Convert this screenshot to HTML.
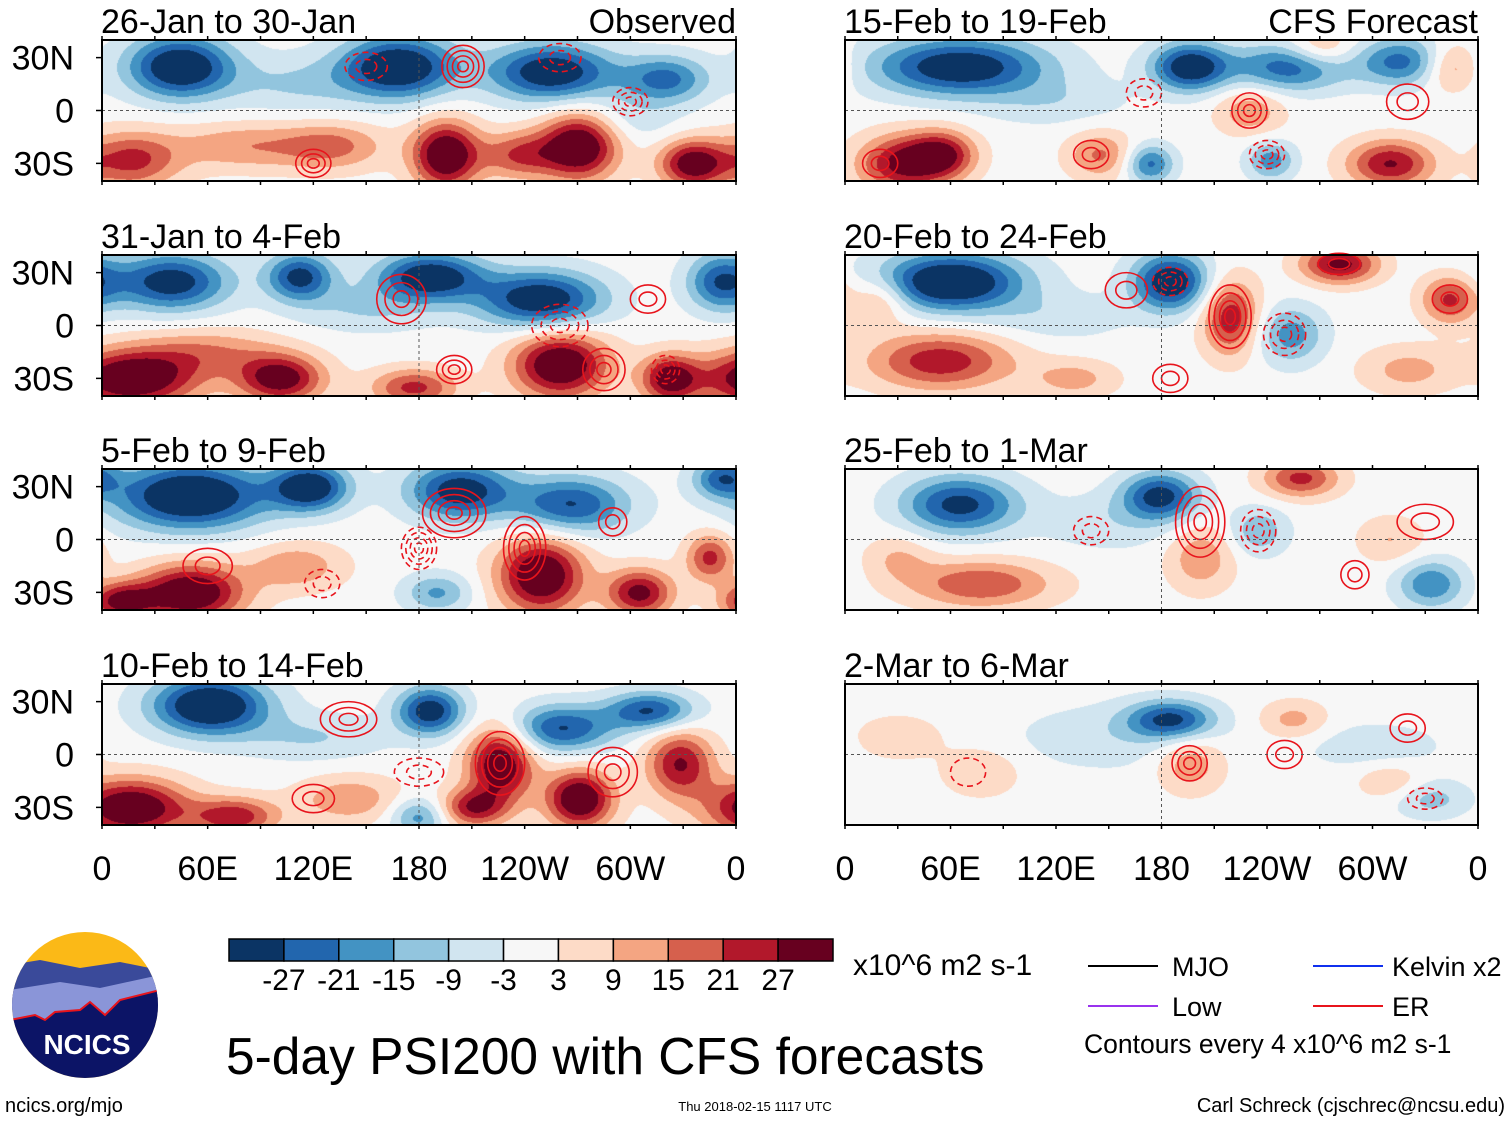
<!DOCTYPE html>
<html><head><meta charset="utf-8">
<style>
body{margin:0;background:#fff;width:1510px;height:1121px;position:relative;overflow:hidden;font-family:"Liberation Sans",sans-serif}
canvas{position:absolute}
#ov{position:absolute;left:0;top:0}
</style></head><body>
<div id="maps"></div>
<svg id="ov" width="1510" height="1121" font-family="Liberation Sans, sans-serif"></svg>
<script>
// ----- data -----
const panelTitles=["26-Jan to 30-Jan","31-Jan to 4-Feb","5-Feb to 9-Feb","10-Feb to 14-Feb","15-Feb to 19-Feb","20-Feb to 24-Feb","25-Feb to 1-Mar","2-Mar to 6-Mar"];
const lonTicks=["0","60E","120E","180","120W","60W","0"];
const latTicks=["30N","0","30S"];
const latTickValues=[30,0,-30];
const cbLabels=["-27","-21","-15","-9","-3","3","9","15","21","27"];
const cbColors=["#0b3464","#2266ae","#4393c3","#92c5de","#d1e5f0","#f7f7f7","#fddbc7","#f4a582","#d6604d","#b2182b","#67001f"];
const levels=[-27,-21,-15,-9,-3,3,9,15,21,27];
// streamfunction anomaly centres per panel: [lon, lat, amplitude, lonRadius, latRadius]
const psiP1=[[44,25,-32,22,13],[168,25,-32,24,13],[255,22,-30,26,12],[320,18,-20,18,10],[195,-25,32,14,14],[271,-20,32,16,14],[16,-28,20,20,12],[131,-20,14,22,10],[335,-30,28,14,10],[237,-25,18,16,10],[80,-20,12,30,10],[110,15,-8,30,12],[300,-5,-6,20,10]];
const psiP2=[[39,25,-28,24,12],[112,28,-26,14,10],[186,28,-30,22,10],[249,15,-30,26,12],[351,25,-22,14,12],[16,-30,32,28,12],[101,-30,28,18,10],[177,-35,20,18,8],[260,-22,32,20,14],[322,-30,26,12,10],[60,-15,12,30,10],[150,10,-8,30,10]];
const psiP3=[[50,25,-34,32,14],[118,30,-30,16,10],[203,28,-28,22,12],[266,20,-24,24,12],[352,35,-20,12,8],[50,-30,32,22,12],[10,-35,24,14,8],[249,-20,32,18,16],[305,-30,26,14,10],[345,-10,20,10,10],[110,-15,12,20,10],[190,-30,-14,14,8]];
const psiP4=[[61,28,-34,24,12],[186,25,-28,14,10],[260,15,-24,22,10],[311,25,-24,18,8],[180,-35,-16,12,8],[226,-5,30,14,16],[271,-25,32,14,12],[328,-5,24,14,14],[16,-30,32,24,12],[75,-35,22,18,8],[210,-30,22,14,8],[140,-25,12,22,10],[120,10,-8,30,10]];
const psiP5=[[65,25,-30,36,12],[196,25,-30,16,10],[253,25,-22,24,10],[316,28,-20,18,10],[173,-30,-20,10,8],[242,-28,-16,10,8],[31,-30,24,18,12],[55,-25,24,14,10],[310,-30,24,18,10],[145,-25,14,14,10],[230,0,12,14,10],[345,25,14,12,10],[270,35,12,14,8],[120,5,-6,30,10]];
const psiP6=[[60,25,-34,30,12],[185,25,-30,16,12],[253,-5,-16,14,12],[219,5,22,12,16],[281,35,26,16,8],[344,15,20,12,10],[54,-20,22,30,12],[20,15,12,12,10],[130,-30,10,18,8],[320,-25,10,20,10],[120,5,-6,30,10]];
const psiP7=[[65,20,-26,24,12],[179,25,-26,16,10],[235,5,-12,12,10],[333,-25,-18,14,10],[259,35,20,16,8],[77,-25,18,30,10],[202,-10,12,14,14],[310,0,8,14,10],[30,-10,8,14,10],[150,10,-6,30,12]];
const psiP8=[[185,20,-24,18,8],[333,-25,-10,16,8],[150,10,-6,40,14],[300,5,-6,30,10],[196,-5,12,14,12],[255,20,10,14,8],[77,-10,8,16,10],[310,-15,8,14,8],[30,10,6,20,10]];
const psiData=[psiP1,psiP2,psiP3,psiP4,psiP5,psiP6,psiP7,psiP8];
// ER contour centres: [lon, lat, rings, lonRadius, latRadius, dashed(1)]
const erP1=[[150,25,2,12,8,1],[205,25,4,12,12,0],[120,-30,3,10,8,0],[260,30,2,12,8,1],[300,5,3,10,8,1]];
const erP2=[[170,15,3,14,14,0],[310,15,2,10,8,0],[260,0,3,16,12,1],[200,-25,3,10,8,0],[285,-25,3,12,12,0],[320,-25,3,8,8,1]];
const erP3=[[200,15,4,18,14,0],[240,-5,4,12,18,0],[180,-5,4,10,12,1],[290,10,2,8,8,0],[60,-15,2,14,10,0],[125,-25,2,10,8,1]];
const erP4=[[140,20,3,16,10,0],[226,-5,4,14,18,0],[290,-10,3,14,14,0],[120,-25,2,12,8,0],[180,-10,2,14,8,1]];
const erP5=[[230,0,3,10,10,0],[170,10,2,10,8,1],[320,5,2,12,10,0],[140,-25,2,10,8,0],[240,-25,3,10,8,1],[20,-30,2,10,8,0]];
const erP6=[[219,5,4,12,18,0],[160,20,2,12,10,0],[185,25,3,10,8,1],[250,-5,3,12,12,1],[281,35,2,12,6,0],[344,15,2,10,8,0],[185,-30,2,10,8,0]];
const erP7=[[202,10,4,14,20,0],[235,5,3,10,12,1],[290,-20,2,8,8,0],[330,10,2,16,10,0],[140,5,2,10,8,1]];
const erP8=[[196,-5,3,10,10,0],[250,0,2,10,8,0],[330,-25,2,10,6,1],[320,15,2,10,8,0],[70,-10,1,10,8,1]];
const erData=[erP1,erP2,erP3,erP4,erP5,erP6,erP7,erP8];

// ----- layout -----
const colX=[[102,736],[845,1478]];
const rowTop=[40,255,469,684];
const PH=141;
const RS=1.35, AS=1.15; // spread/intensity scaling of centres
const NS="http://www.w3.org/2000/svg";
const ov=document.getElementById('ov');
function el(tag,attrs,parent){const e=document.createElementNS(NS,tag);for(const k in attrs)e.setAttribute(k,attrs[k]);(parent||ov).appendChild(e);return e;}
function txt(x,y,s,size,anchor,parent){const t=el('text',{x:x,y:y,'font-size':size,'text-anchor':anchor||'start',fill:'#000'},parent);t.textContent=s;return t;}
function hex(c){return [parseInt(c.slice(1,3),16),parseInt(c.slice(3,5),16),parseInt(c.slice(5,7),16)];}
const rgb=cbColors.map(hex);

psiData.forEach((blobs,i)=>{
  const col=i<4?0:1,row=i%4;
  const x0=colX[col][0],x1=colX[col][1],W=x1-x0,top=rowTop[row];
  const xS=lon=>x0+lon/360*W;
  const yS=lat=>top+(40-lat)/80*PH;
  const cv=document.createElement('canvas');cv.width=W;cv.height=PH;
  cv.style.left=x0+'px';cv.style.top=top+'px';
  
  
  document.getElementById('maps').appendChild(cv);
  const ctx=cv.getContext('2d');const img=ctx.createImageData(W,PH);
  for(let py=0;py<PH;py++){const lat=40-py/PH*80;
    for(let px=0;px<W;px++){const lon=px/W*360;let v=0;
      for(const b of blobs){let dl=Math.abs(lon-b[0]);if(dl>180)dl=360-dl;
        v+=AS*b[2]*Math.exp(-((dl/(b[3]*RS))**2+((lat-b[1])/(b[4]*RS))**2));}
      let k=0;while(k<levels.length&&v>levels[k])k++;
      const c=rgb[k],o=(py*W+px)*4;img.data[o]=c[0];img.data[o+1]=c[1];img.data[o+2]=c[2];img.data[o+3]=255;}}
  ctx.putImageData(img,0,0);
  const g=el('g',{});
  
  
  erData[i].forEach(c=>{for(let r=1;r<=c[2];r++){const f=r/c[2];
    const e=el('ellipse',{cx:xS(c[0]),cy:yS(c[1]),rx:c[3]/360*W*f,ry:c[4]/80*PH*f,fill:'none',stroke:'#e8141c','stroke-width':1.6,'stroke-dasharray':c[5]?'6,4':'none'},g);
    }});
  el('line',{x1:x0,x2:x1,y1:yS(0),y2:yS(0),stroke:'#555','stroke-dasharray':'3,3','stroke-width':1},g);
  el('line',{x1:xS(180),x2:xS(180),y1:top,y2:top+PH,stroke:'#555','stroke-dasharray':'3,3','stroke-width':1},g);
  el('rect',{x:x0,y:top,width:W,height:PH,fill:'none',stroke:'#000','stroke-width':2},g);
  for(let l=0;l<=360;l+=30){el('line',{x1:xS(l),x2:xS(l),y1:top-4,y2:top,stroke:'#000','stroke-width':1.5},g);el('line',{x1:xS(l),x2:xS(l),y1:top+PH,y2:top+PH+4,stroke:'#000','stroke-width':1.5},g);}
  const t=txt(x0-1,top-7,panelTitles[i],34,'start',g);
  if(i===0)txt(x1,top-7,'Observed',34,'end',g);
  if(i===4)txt(x1,top-7,'CFS Forecast',34,'end',g);
  if(col===0)latTicks.forEach((s,k)=>{const y=yS(latTickValues[k]);el('line',{x1:x0-6,x2:x0,y1:y,y2:y,stroke:'#000','stroke-width':1.5},g);txt(74,y+12,s,34,'end',g);});
  if(row===3)lonTicks.forEach((s,k)=>txt(xS(k*60),880,s,34,'middle',g));
});

// colorbar
const cb=el('g',{});
const cbx=229,cbw=604/11;
cbColors.forEach((c,k)=>el('rect',{x:cbx+k*cbw,y:939,width:cbw,height:22,fill:c,stroke:'#000','stroke-width':1.5},cb));
cbLabels.forEach((s,k)=>txt(cbx+(k+1)*cbw,990,s,30,'middle',cb));
txt(853,975,'x10^6 m2 s-1',30,'start',cb);
// legend
const lg=el('g',{});
[[1088,966,'#000','MJO',1172],[1088,1006,'#9933ee','Low',1172],[1313,966,'#1030ee','Kelvin x2',1392],[1313,1006,'#e8141c','ER',1392]].forEach(a=>{
  el('line',{x1:a[0],x2:a[0]+70,y1:a[1],y2:a[1],stroke:a[2],'stroke-width':2},lg);txt(a[4],a[1]+10,a[3],27,'start',lg);});
txt(1084,1053,'Contours every 4 x10^6 m2 s-1',26.5,'start',lg);
const tt=txt(226,1074,'5-day PSI200 with CFS forecasts',51.5,'start');
txt(5,1112,'ncics.org/mjo',20,'start');
txt(755,1111,'Thu 2018-02-15 1117 UTC',13,'middle');
txt(1505,1112,'Carl Schreck (cjschrec@ncsu.edu)',20,'end');
// logo
const lo=el('g',{});
el('clipPath',{id:'lc'},lo);el('circle',{cx:85,cy:1005,r:73},lo.lastChild);
const lg2=el('g',{'clip-path':'url(#lc)'},lo);
el('rect',{x:10,y:930,width:150,height:150,fill:'#fbb917'},lg2);
el('path',{d:'M10 965 L40 960 L80 968 L120 962 L160 970 L160 1000 L10 1010Z',fill:'#3a4a9a'},lg2);
el('path',{d:'M10 990 L60 982 L100 988 L160 975 L160 1020 L10 1025Z',fill:'#8a95d8'},lg2);
el('path',{d:'M10 1020 L35 1015 L45 1020 L55 1012 L80 1010 L90 1002 L105 1015 L120 1000 L160 990 L160 1080 L10 1080Z',fill:'#0c1466',stroke:'#e8141c','stroke-width':2},lg2);
const nt=txt(87,1054,'NCICS',28,'middle',lo);nt.setAttribute('fill','#fff');nt.setAttribute('font-weight','bold');
</script>
</body></html>
